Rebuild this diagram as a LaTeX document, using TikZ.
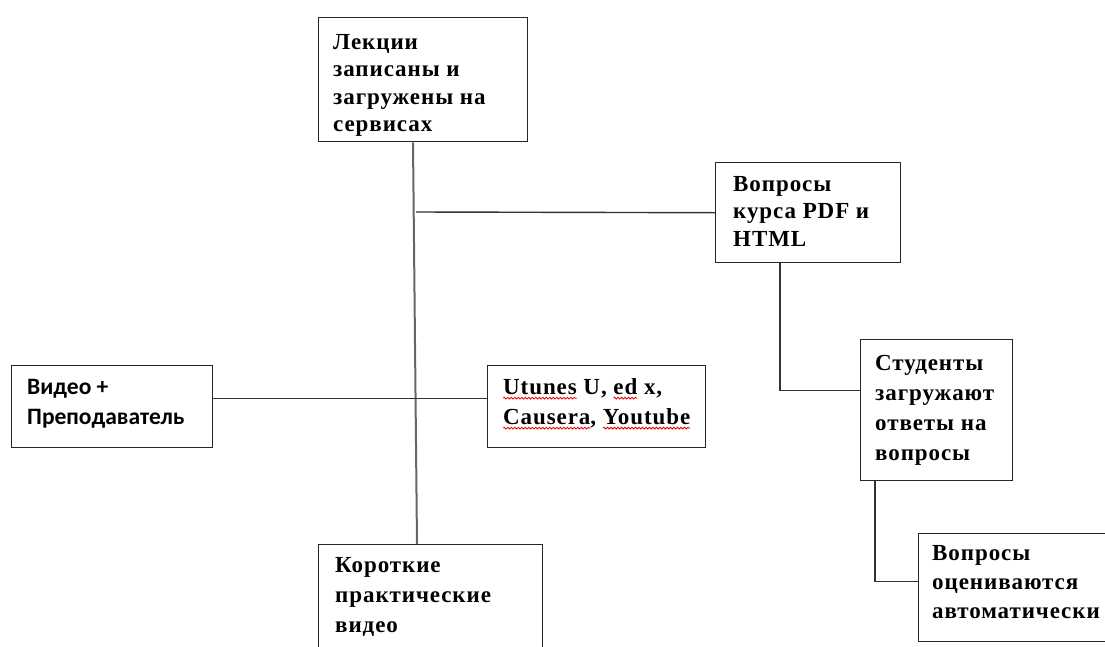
\documentclass[tikz,border=0pt]{standalone}
\usepackage{fontspec}
\usetikzlibrary{decorations.pathmorphing}
\setmainfont[LetterSpace=4]{Liberation Serif}
\newfontfamily\calib{Carlito}
\newsavebox\wvbox
\newcommand\wv[1]{\sbox\wvbox{#1}\usebox\wvbox\tikz[overlay,baseline=0pt]\draw[red!90!black,line width=0.8pt,decorate,decoration={snake,amplitude=0.9pt,segment length=3.5pt}] (-\wd\wvbox,-4pt) -- (0pt,-4pt);}
\begin{document}
\begin{tikzpicture}[x=1pt,y=-1pt,
  box/.style={draw=black!85,line width=1.4pt,rectangle,anchor=north west,inner sep=0pt,minimum width=#1},
  box/.default=10pt,
  txt/.style={anchor=north west,inner sep=0pt,align=left,font=\fontsize{23}{27.5}\selectfont\bfseries},
  ctxt/.style={anchor=north west,inner sep=0pt,align=left,font=\calib\fontsize{23.5}{30}\selectfont\bfseries},
  link/.style={draw=black!80,line width=1.4pt},
  spine/.style={draw=black!60,line width=2pt}]
\useasboundingbox (0,0) rectangle (1105,646);
\begin{scope}
\clip (0,0) rectangle (1105,646);
% boxes
\node[box=209pt,minimum height=124pt] (lec) at (318,17) {};
\node[box=185pt,minimum height=100pt] (vopr) at (715,162) {};
\node[box=201pt,minimum height=82pt] (video) at (11,365) {};
\node[box=218pt,minimum height=82pt] (utunes) at (487,365) {};
\node[box=152pt,minimum height=141pt] (stud) at (860,339) {};
\node[box=200pt,minimum height=108pt] (vopr2) at (918,533) {};
\node[box=224pt,minimum height=130pt] (kor) at (318,544) {};
% texts
\node[txt] (lect) at (333,34) {Лекции\\записаны и\\загружены на\\сервисах};
\node[txt] (voprt) at (733,176) {Вопросы\\курса PDF и\\HTML};
\node[ctxt] (videot) at (27,379) {Видео +\\Преподаватель};
\node[txt,font=\fontsize{23}{30}\selectfont\bfseries] (utunest) at (503,378) {\wv{Utunes} U, \wv{ed} x,\\\wv{Causera}, \wv{Youtube}};
\node[txt,font=\fontsize{23}{30}\selectfont\bfseries] (studt) at (875,355) {Студенты\\загружают\\ответы на\\вопросы};
\node[txt,font=\fontsize{23}{29}\selectfont\bfseries] (vopr2t) at (932,545) {Вопросы\\оцениваются\\автоматически};
\node[txt,font=\fontsize{23}{30}\selectfont\bfseries] (kort) at (335,557) {Короткие\\практические\\видео};
% connectors
\coordinate (j1) at (416,212);
\draw[spine] ([xshift=95pt]lec.south west) -- ([xshift=99pt]kor.north west);
\draw[link] (j1) -- (vopr.west);
\draw[link] ([yshift=8pt]video.east) -- ([yshift=8pt]utunes.west);
\draw[link] ([xshift=65pt]vopr.south west) |- ([yshift=20pt]stud.west);
\draw[link] ([xshift=15pt]stud.south west) |- ([yshift=6pt]vopr2.west);
\end{scope}
\end{tikzpicture}
\end{document}
